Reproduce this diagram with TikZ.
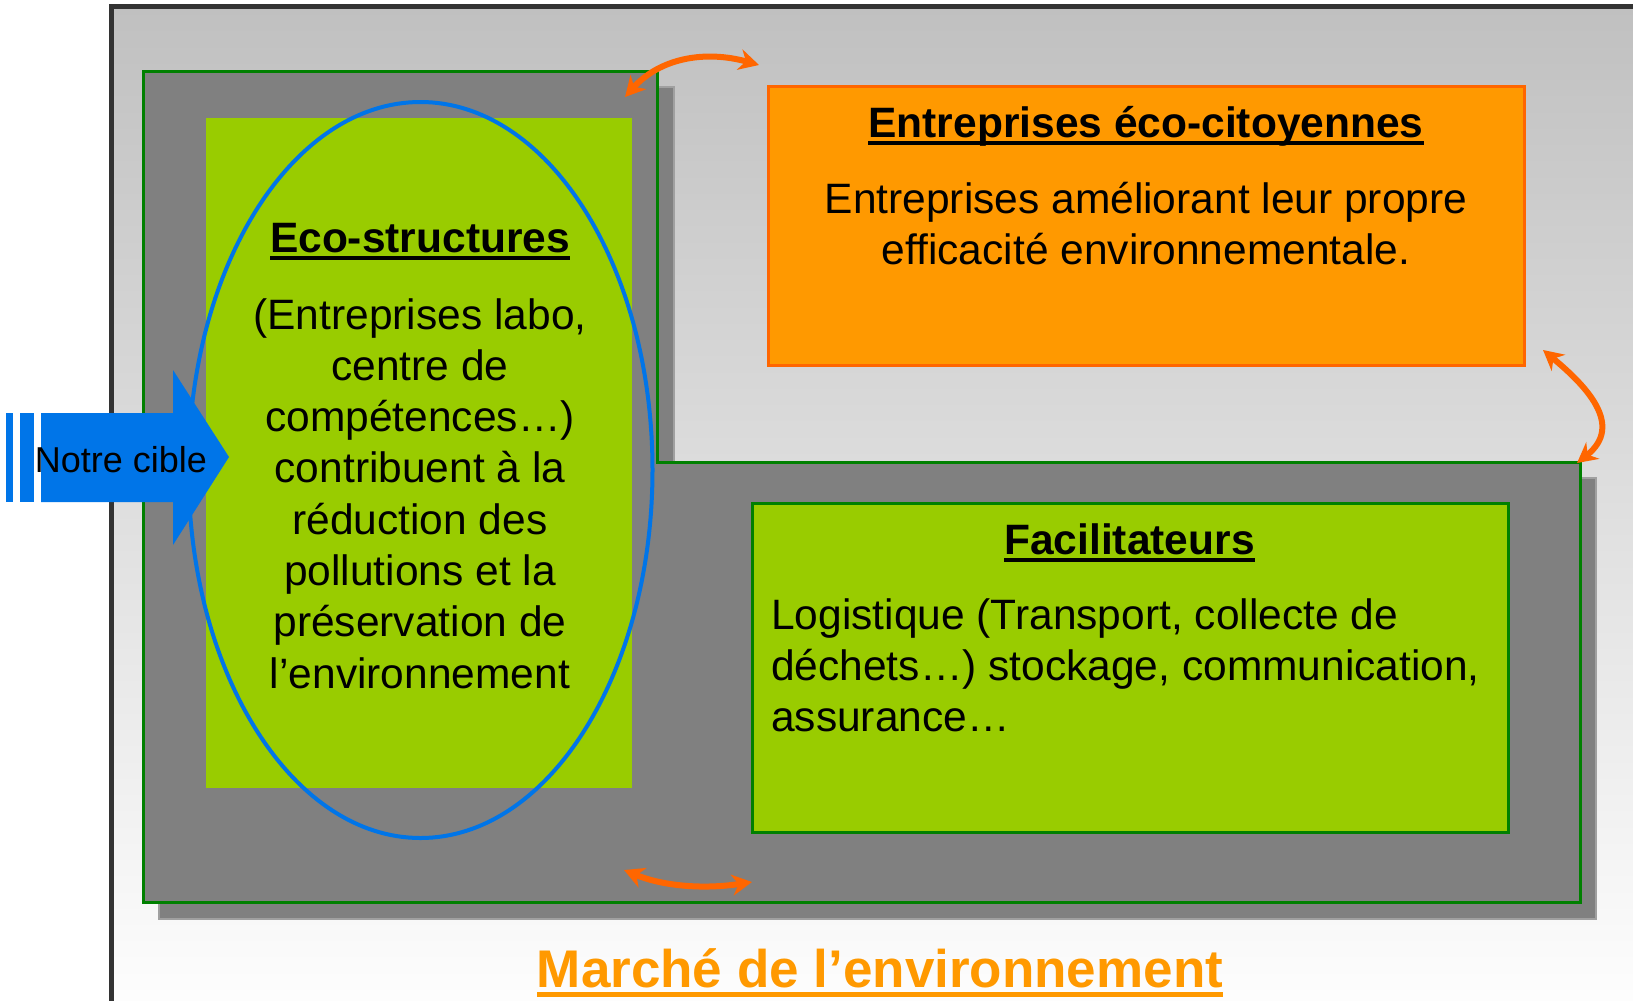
\documentclass[tikz,border=0pt]{standalone}
\usepackage{fontspec}
\setmainfont{Liberation Sans}
\usetikzlibrary{arrows.meta}
\definecolor{framegray}{HTML}{333333}
\definecolor{bggray}{HTML}{C0C0C0}
\definecolor{midgray}{HTML}{808080}
\definecolor{shadowline}{HTML}{A0A0A0}
\definecolor{darkgreen}{HTML}{008000}
\definecolor{lime}{HTML}{99CC00}
\definecolor{orangefill}{HTML}{FF9900}
\definecolor{orangeline}{HTML}{FF6600}
\definecolor{cibleblue}{HTML}{0075E8}
% underlined box, rule scaled to the font
\newcommand\ulbox[1]{\setbox0\hbox{#1}\rlap{\rule[-0.19em]{\wd0}{0.095em}}\box0}
\tikzset{
  bigtext/.style={font=\fontsize{42.5}{51.3}\selectfont, inner sep=0pt},
  swap/.style={draw=orangeline, line width=6pt,
    {Stealth[length=20pt,width=21pt]}-{Stealth[length=20pt,width=21pt]}}
}
\begin{document}
\begin{tikzpicture}[x=1pt,y=-1pt]
    \useasboundingbox (0,0) rectangle (1633,1001);
    \clip (0,0) rectangle (1633,1001);
    \fill[white] (0,0) rectangle (1633,1001);
    % market frame
    \shade[top color=bggray, bottom color=white] (111,6.5) rectangle (1660,1030);
    \draw[framegray, line width=5pt] (111,1030) -- (111,6.5) -- (1660,6.5);
    % L shaped block and its shadow
    \draw[fill=midgray, draw=shadowline, line width=1.5pt]
        (159,87) -- (674,87) -- (674,478) -- (1596,478) -- (1596,919) -- (159,919) -- cycle;
    \draw[fill=midgray, draw=darkgreen, line width=3pt]
        (143,71) -- (657,71) -- (657,462) -- (1580,462) -- (1580,902) -- (143,902) -- cycle;
    % boxes
    \fill[lime] (206,118) rectangle (632,788);
    \draw[cibleblue, line width=4pt] (420.5,470) ellipse [x radius=232, y radius=368];
    \draw[fill=orangefill, draw=orangeline, line width=3pt] (768,86) rectangle (1524,365);
    \draw[fill=lime, draw=darkgreen, line width=3pt] (752,503) rectangle (1508,832);
    % texts
    \node (eco title) [bigtext, anchor=base] at (420,252) {\ulbox{\bfseries Eco-structures}};
    \node (eco text) [bigtext, anchor=base] at (420,329)
        {\begin{tabular}[t]{@{}c@{}}(Entreprises labo,\\centre de\\compétences…)\\contribuent à la\\réduction des\\pollutions et la\\préservation de\\l’environnement\end{tabular}};
    \node (ent title) [bigtext, anchor=base] at (1146,137) {\ulbox{\bfseries Entreprises éco-citoyennes}};
    \node (ent text) [bigtext, anchor=base] at (1146,213)
        {\begin{tabular}[t]{@{}c@{}}Entreprises améliorant leur propre\\efficacité environnementale.\end{tabular}};
    \node (fac title) [bigtext, anchor=base] at (1129.5,554) {\ulbox{\bfseries Facilitateurs}};
    \node (fac text) [bigtext, anchor=base west] at (771,629)
        {\begin{tabular}[t]{@{}l@{}}Logistique (Transport, collecte de\\déchets…) stockage, communication,\\assurance…\end{tabular}};
    % target arrow
    \fill[cibleblue] (6,413) rectangle (13,502);
    \fill[cibleblue] (20,413) rectangle (34,502);
    \fill[cibleblue] (41,413) -- (173,413) -- (173,370) -- (229,457) -- (173,545) -- (173,502) -- (41,502) -- cycle;
    \node (cible) [font=\fontsize{36}{43}\selectfont, inner sep=0pt, anchor=base] at (121,472) {Notre cible};
    % market title
    \node (market) [font=\fontsize{53}{64}\selectfont\bfseries, text=orangefill, inner sep=0pt, anchor=base]
        at (880,987) {\ulbox{Marché de l’environnement}};
    % exchange arrows
    \coordinate (a1) at (625,97);
    \coordinate (b1) at (759,65);
    \coordinate (a2) at (1543,350);
    \coordinate (b2) at (1577,463);
    \coordinate (a3) at (624,870);
    \coordinate (b3) at (752,882);
    \draw[swap] (a1) .. controls (660,58) and (705,50) .. (b1);
    \draw[swap] (a2) .. controls (1585,385) and (1625,425) .. (b2);
    \draw[swap] (a3) .. controls (660,885) and (700,890) .. (b3);
\end{tikzpicture}
\end{document}
